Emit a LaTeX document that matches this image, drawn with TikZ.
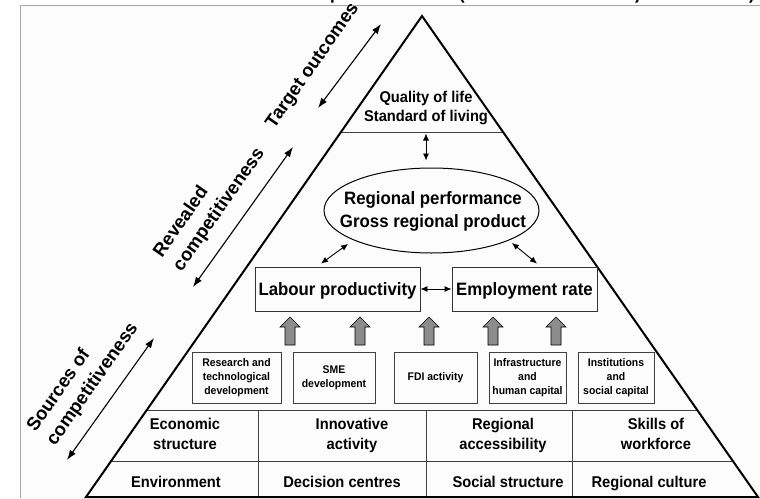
\documentclass[tikz,border=0pt]{standalone}
\usepackage{fontspec}
\setmainfont[FakeStretch=0.94]{Liberation Sans}
\newfontfamily\sidefont{Liberation Sans}
\usetikzlibrary{arrows.meta,shapes.geometric,calc}
\begin{document}
\begin{tikzpicture}[x=1pt,y=-1pt,
  frameline/.style={draw=black!35, line width=0.8pt},
  pyr/.style={draw=black, line width=2pt, line join=miter},
  sep/.style={draw=black!75, line width=0.9pt},
  big/.style={font=\fontsize{17.9}{23}\selectfont\bfseries, align=center, text depth=0pt},
  bigbox/.style={big, draw=black!80, line width=0.9pt, inner sep=0pt},
  layer/.style={font=\fontsize{15.6}{20}\selectfont\bfseries, align=center, text depth=0pt},
  smallbox/.style={draw=black!75, line width=0.8pt, inner sep=0pt, align=center,
    font=\fontsize{11.1}{14}\selectfont\bfseries, minimum height=51pt},
  side/.style={font=\sidefont\fontsize{18.5}{24}\selectfont\bfseries, rotate=55, align=left, inner sep=0pt},
  sidearrow/.style={{Latex[length=10pt,width=7pt]}-{Latex[length=10pt,width=7pt]}, line width=1.1pt},
  dbl/.style={{Latex[length=7pt,width=6pt]}-{Latex[length=7pt,width=6pt]}, line width=0.9pt},
  uparrow/.style={fill=black!45, draw=black, line width=0.6pt},
  titlefrag/.style={font=\fontsize{18}{20}\selectfont\bfseries, inner sep=0pt},
  blockup/.pic={\draw[uparrow] (-5,0) -- (-5,-18) -- (-10,-18) -- (0,-28) -- (10,-18) -- (5,-18) -- (5,0) -- cycle;}
]
\useasboundingbox (0,0) rectangle (760,498);
\fill[white] (0,0) rectangle (760,498);
\fill[black!1] (20,5) rectangle (760,498);
\draw[frameline] (760,5) -- (20,5) -- (20,498);

% fragments of a cut-off title above the frame
\begin{scope}
\clip (0,-20) rectangle (760,4.4);
\node[titlefrag, anchor=base west] (tf1) at (330,-0.5) {p};
\node[titlefrag, anchor=base west] (tf2) at (459,-0.5) {(};
\node[titlefrag, anchor=base east] (tf3) at (641,-0.5) {)};
\node[titlefrag, anchor=base east] (tf4) at (755,-0.5) {)};
\end{scope}

% pyramid
\coordinate (apex) at (422,16);
\coordinate (bl) at (86,497);
\coordinate (br) at (758,497);
\draw[sep] ($(apex)!0.24116!(bl)$) -- ($(apex)!0.24116!(br)$);
\draw[sep] ($(apex)!0.81913!(bl)$) -- ($(apex)!0.81913!(br)$);
\draw[sep] ($(apex)!0.92516!(bl)$) -- ($(apex)!0.92516!(br)$);
\draw[sep] (258,410) -- (258,497);
\draw[sep] (426,410) -- (426,497);
\draw[sep] (572,410) -- (572,497);
\draw[pyr] (apex) -- (br) -- (bl) -- cycle;

% top
\node[layer, font=\fontsize{15.6}{19}\selectfont\bfseries] (qol) at (426,106.5) {Quality of life\\Standard of living};
\coordinate (topsep) at (426,133.5);

% regional performance
\node[draw=black, line width=1pt, ellipse, minimum width=215pt, minimum height=85pt, inner sep=0pt] (perf) at (431.5,210.5) {};
\node[big] (perftext) at (433,209.5) {Regional performance\\Gross regional product};

% boxes
\node[bigbox, minimum width=165pt, minimum height=44pt] (lab) at (337.5,289) {Labour productivity};
\node[bigbox, minimum width=145pt, minimum height=44pt] (emp) at (524.5,289) {Employment rate};

% connectors
\draw[dbl] (topsep) -- ([xshift=-5.5pt,yshift=7pt]perf.north);
\draw[dbl] ([xshift=-16.5pt,yshift=3pt]lab.north) -- ([xshift=-7pt,yshift=-3pt]perf.south west);
\draw[dbl] ([xshift=4pt,yshift=-2pt]perf.south east) -- ([xshift=12.5pt,yshift=3pt]emp.north);
\draw[dbl] (lab.east) -- (emp.west);

% block arrows
\pic at (290,345) {blockup};
\pic at (360,345) {blockup};
\pic at (429,345) {blockup};
\pic at (493,345) {blockup};
\pic at (556,345) {blockup};

% small boxes
\node[smallbox, minimum width=89pt] (rtd) at (236.5,377.5) {Research and\\technological\\development};
\node[smallbox, minimum width=82pt] (sme) at (334,377.5) {SME\\development};
\node[smallbox, minimum width=83pt] (fdi) at (435.5,377.5) {FDI activity};
\node[smallbox, minimum width=77pt] (infra) at (527.5,377.5) {Infrastructure\\and\\human capital};
\node[smallbox, minimum width=76pt] (inst) at (616,377.5) {Institutions\\and\\social capital};

% layers
\node[layer] (econ) at (185,434) {Economic\\structure};
\node[layer] (innov) at (352,434) {Innovative\\activity};
\node[layer] (access) at (503,434) {Regional\\accessibility};
\node[layer] (skills) at (656,434) {Skills of\\workforce};
\node[layer] (env) at (176,482) {Environment};
\node[layer] (dec) at (342,482) {Decision centres};
\node[layer] (soc) at (508,482) {Social structure};
\node[layer] (cult) at (649,482) {Regional culture};

% side labels
\node[side] (target) at (313,66) {Target outcomes};
\node[side] (revealed) at (209.5,203) {Revealed\\competitiveness};
\node[side] (sources) at (83,377.5) {Sources of\\competitiveness};
\coordinate (ta1) at (318,108);
\coordinate (ta2) at (381,24);
\coordinate (ra1) at (193,287);
\coordinate (ra2) at (293,147);
\coordinate (sa1) at (67,460);
\coordinate (sa2) at (154,338);
\draw[sidearrow] (ta1) -- (ta2);
\draw[sidearrow] (ra1) -- (ra2);
\draw[sidearrow] (sa1) -- (sa2);
\end{tikzpicture}
\end{document}
